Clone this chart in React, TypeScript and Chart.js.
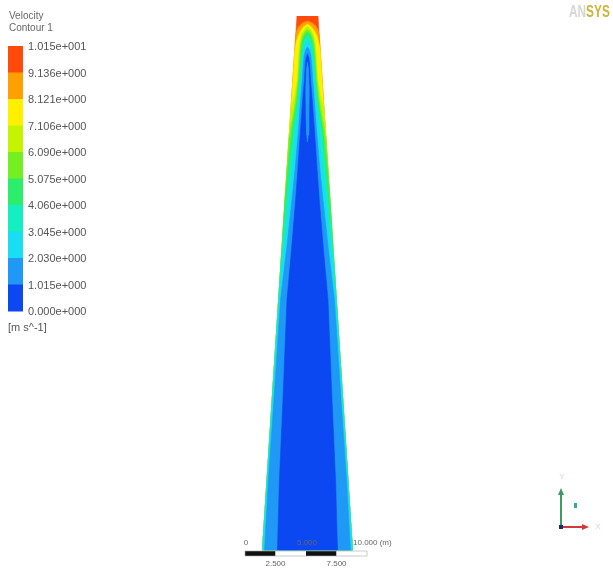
import React, { useEffect, useRef } from 'react';
import { Chart, registerables } from 'chart.js';

Chart.register(...registerables);

// Contour levels of velocity [m s^-1], low -> high
const LEVELS = [0.0, 1.015, 2.03, 3.045, 4.06, 5.075, 6.09, 7.106, 8.121, 9.136, 10.15];
// Band colours, band k covers LEVELS[k]..LEVELS[k+1]
const BAND_COLORS = [
  '#0c48f2', '#1f98f6', '#19def2', '#14eec0', '#2cee6a',
  '#74f022', '#c4f400', '#fff000', '#ffa000', '#ff4a0c',
];

// Cone outline: height above base [m], half-width [m]
const CONE_H = [43.77, 0];
const CONE_W = [0.86, 3.69];

// Iso-lines (height [m], half-width [m]); region inside has v below the level
const ISO_9136_H = [43.36, 43.2, 42.87, 42.54, 42.21, 0];
const ISO_9136_W = [0, 0.41, 0.74, 0.89, 0.96, 3.69];

const ISO_8121_H = [43.11, 42.87, 42.54, 42.13, 41.64, 40.98, 0];
const ISO_8121_W = [0, 0.33, 0.57, 0.78, 0.92, 1.04, 3.69];

const ISO_7106_H = [42.95, 42.7, 42.3, 41.64, 40.57, 38.52, 37.3, 36.07, 0];
const ISO_7106_W = [0, 0.25, 0.48, 0.62, 0.73, 0.84, 1.05, 1.36, 3.69];

const ISO_6090_H = [42.7, 42.46, 42.05, 41.39, 40.16, 38.52, 36.89, 34.43, 33.61, 0];
const ISO_6090_W = [0, 0.25, 0.43, 0.57, 0.67, 0.77, 0.97, 1.39, 1.52, 3.69];

const ISO_5075_H = [42.46, 42.21, 41.8, 40.98, 39.75, 38.52, 36.89, 34.43, 31.15, 28.69, 0];
const ISO_5075_W = [0, 0.23, 0.39, 0.52, 0.61, 0.7, 0.86, 1.27, 1.62, 1.84, 3.69];

const ISO_4060_H = [42.13, 41.89, 41.39, 40.57, 39.51, 38.52, 36.89, 34.43, 31.15, 27.05, 23.77, 0];
const ISO_4060_W = [0, 0.23, 0.38, 0.48, 0.56, 0.62, 0.79, 1.15, 1.46, 1.84, 2.15, 3.69];

const ISO_3045_H = [41.72, 41.48, 40.98, 40.16, 38.52, 36.89, 34.43, 31.15, 27.05, 23.77, 20.49, 12.3, 5.74, 0];
const ISO_3045_W = [0, 0.2, 0.34, 0.44, 0.56, 0.7, 0.94, 1.27, 1.68, 2.05, 2.32, 2.85, 3.3, 3.66];

const ISO_2030_H = [41.23, 40.98, 40.49, 39.75, 38.52, 36.89, 34.43, 31.15, 28.69, 24.59, 20.49, 12.3, 5.74, 0];
const ISO_2030_W = [0, 0.16, 0.28, 0.35, 0.43, 0.56, 0.74, 1.02, 1.27, 1.72, 2.21, 2.75, 3.2, 3.52];

const ISO_1015_H = [40.66, 40.33, 39.75, 38.52, 36.89, 34.43, 31.15, 28.69, 24.59, 20.49, 12.3, 5.74, 0];
const ISO_1015_W = [0, 0.11, 0.18, 0.25, 0.39, 0.57, 0.79, 0.97, 1.31, 1.68, 2.01, 2.3, 2.46];

// Faster central streak (1.015 - 2.030 island inside the core)
const CORE_H = [40.0, 39.34, 37.7, 35.66, 34.02, 33.44];
const CORE_W = [0, 0.09, 0.14, 0.12, 0.06, 0];

// Scale bar ticks [m]
const SCALE_TICKS = [0, 2.5, 5, 7.5, 10];
const SCALE_TOP_LABELS = ['0', '', '5.000', '', '10.000 (m)'];
const SCALE_BOTTOM_LABELS = ['', '2.500', '', '7.500', ''];

const LAYERS = [
  { h: CONE_H, w: CONE_W, band: 9 },
  { h: ISO_9136_H, w: ISO_9136_W, band: 8 },
  { h: ISO_8121_H, w: ISO_8121_W, band: 7 },
  { h: ISO_7106_H, w: ISO_7106_W, band: 6 },
  { h: ISO_6090_H, w: ISO_6090_W, band: 5 },
  { h: ISO_5075_H, w: ISO_5075_W, band: 4 },
  { h: ISO_4060_H, w: ISO_4060_W, band: 3 },
  { h: ISO_3045_H, w: ISO_3045_W, band: 2 },
  { h: ISO_2030_H, w: ISO_2030_W, band: 1 },
  { h: ISO_1015_H, w: ISO_1015_W, band: 0 },
  { h: CORE_H, w: CORE_W, band: 1 },
];

const fmt = (v: number) => {
  const [m, e] = v.toExponential(3).split('e');
  return `${m}e${e[0]}${e.slice(1).padStart(3, '0')}`;
};

const toPolygon = (h: number[], w: number[]) => [
  ...h.map((hv, i) => ({ x: -w[i], y: hv })),
  ...h.map((hv, i) => ({ x: w[i], y: hv })).reverse(),
];

const FONT = '"Liberation Sans", Arial, sans-serif';

const overlay = {
  id: 'overlay',
  afterDraw(chart: any) {
    const ctx = chart.ctx as CanvasRenderingContext2D;
    const xs = chart.scales.x;
    ctx.save();

    // ---- colour legend ----
    ctx.fillStyle = '#666';
    ctx.font = `10px ${FONT}`;
    ctx.textBaseline = 'middle';
    ctx.textAlign = 'left';
    ctx.fillText('Velocity', 9, 16);
    ctx.fillText('Contour 1', 9, 28);
    const barX = 8, barW = 15, barTop = 46, bandH = 26.5;
    const nb = BAND_COLORS.length;
    for (let i = 0; i < nb; i++) {
      ctx.fillStyle = BAND_COLORS[nb - 1 - i];
      ctx.fillRect(barX, barTop + i * bandH, barW, bandH + 0.5);
    }
    ctx.fillStyle = '#555';
    ctx.font = `11px ${FONT}`;
    for (let i = 0; i < LEVELS.length; i++) {
      ctx.fillText(fmt(LEVELS[LEVELS.length - 1 - i]), 28, barTop + i * bandH + 1);
    }
    ctx.fillText('[m s^-1]', 8, 328);

    // ---- ANSYS logo ----
    ctx.save();
    ctx.translate(569, 17);
    ctx.scale(0.74, 1);
    ctx.font = `bold 16px ${FONT}`;
    ctx.textBaseline = 'alphabetic';
    ctx.fillStyle = '#d6d6d6';
    ctx.fillText('AN', 0, 0);
    const wAN = ctx.measureText('AN').width;
    ctx.fillStyle = '#cdb43a';
    ctx.fillText('SYS', wAN, 0);
    ctx.restore();

    // ---- scale bar ----
    const origin = -5.12; // model x where the bar begins
    const yb = 551, hb = 5;
    for (let i = 0; i < SCALE_TICKS.length - 1; i++) {
      const x0 = xs.getPixelForValue(origin + SCALE_TICKS[i]);
      const x1 = xs.getPixelForValue(origin + SCALE_TICKS[i + 1]);
      ctx.fillStyle = i % 2 === 0 ? '#111' : '#fff';
      ctx.fillRect(x0, yb, x1 - x0, hb);
    }
    ctx.strokeStyle = '#aaa';
    ctx.lineWidth = 0.6;
    ctx.strokeRect(
      xs.getPixelForValue(origin),
      yb,
      xs.getPixelForValue(origin + 10) - xs.getPixelForValue(origin),
      hb,
    );
    ctx.fillStyle = '#666';
    ctx.font = `8px ${FONT}`;
    ctx.textBaseline = 'middle';
    for (let i = 0; i < SCALE_TICKS.length; i++) {
      const px = xs.getPixelForValue(origin + SCALE_TICKS[i]);
      if (SCALE_TOP_LABELS[i]) {
        if (i === SCALE_TICKS.length - 1) {
          ctx.textAlign = 'left';
          ctx.fillText(SCALE_TOP_LABELS[i], px - 14, 543);
        } else {
          ctx.textAlign = 'center';
          ctx.fillText(SCALE_TOP_LABELS[i], px + 1, 543);
        }
      }
      if (SCALE_BOTTOM_LABELS[i]) {
        ctx.textAlign = 'center';
        ctx.fillText(SCALE_BOTTOM_LABELS[i], px, 564);
      }
    }

    // ---- axis triad ----
    const ox = 561, oy = 527;
    ctx.lineWidth = 2;
    ctx.strokeStyle = '#3c9a62';
    ctx.beginPath();
    ctx.moveTo(ox, oy);
    ctx.lineTo(ox, 494);
    ctx.stroke();
    ctx.fillStyle = '#3c9a62';
    ctx.beginPath();
    ctx.moveTo(ox - 3, 495);
    ctx.lineTo(ox + 3, 495);
    ctx.lineTo(ox, 488);
    ctx.closePath();
    ctx.fill();
    ctx.strokeStyle = '#d23a3a';
    ctx.beginPath();
    ctx.moveTo(ox, oy);
    ctx.lineTo(583, oy);
    ctx.stroke();
    ctx.fillStyle = '#d23a3a';
    ctx.beginPath();
    ctx.moveTo(582, oy - 3);
    ctx.lineTo(582, oy + 3);
    ctx.lineTo(589, oy);
    ctx.closePath();
    ctx.fill();
    ctx.fillStyle = '#1d2a70';
    ctx.fillRect(ox - 2, oy - 2, 4, 4);
    ctx.fillStyle = '#3aa6a0';
    ctx.fillRect(574, 503, 3, 5);
    ctx.font = `8px ${FONT}`;
    ctx.textAlign = 'center';
    ctx.fillStyle = '#e0cce0';
    ctx.fillText('Y', ox + 1, 477);
    ctx.fillText('X', 598, oy);
    ctx.restore();
  },
};

export default function App() {
  const ref = useRef<HTMLCanvasElement>(null);
  useEffect(() => {
    if (!ref.current) return;
    const datasets = LAYERS.map((layer, i) => ({
      data: toPolygon(layer.h, layer.w),
      backgroundColor: BAND_COLORS[layer.band],
      borderColor: BAND_COLORS[layer.band],
      borderWidth: 0.6,
      fill: 'shape' as any,
      pointRadius: 0,
      tension: 0,
      order: LAYERS.length - i,
    }));
    const chart = new Chart(ref.current, {
      type: 'line',
      data: { datasets } as any,
      options: {
        animation: false,
        responsive: false,
        devicePixelRatio: 1,
        layout: { padding: 0 },
        events: [],
        scales: {
          x: { type: 'linear', min: -25.2, max: 25.04, display: false },
          y: { type: 'linear', min: -2.05, max: 45.08, display: false },
        },
        plugins: {
          legend: { display: false },
          tooltip: { enabled: false },
          title: { display: false },
        },
      },
      plugins: [overlay],
    });
    return () => chart.destroy();
  }, []);
  return (
    <div style={{ position: 'absolute', left: 0, top: 0, width: 613, height: 575, background: '#fff' }}>
      <canvas ref={ref} width={613} height={575} style={{ display: 'block' }} />
    </div>
  );
}
